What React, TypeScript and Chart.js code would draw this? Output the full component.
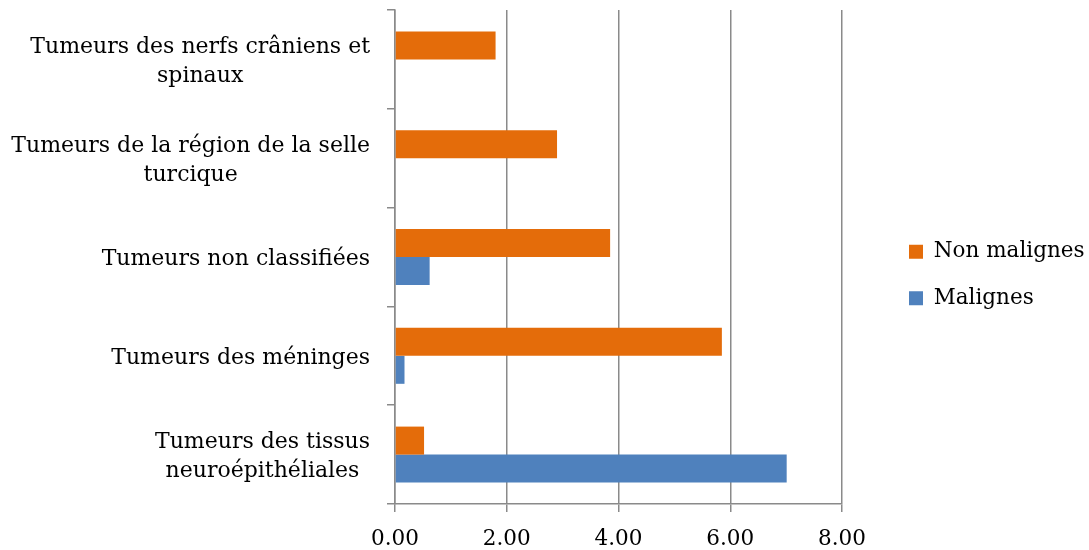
import React, { useEffect, useRef } from 'react';
import { Chart, registerables } from 'chart.js';

Chart.register(...registerables);

const categories: string[][] = [
  ['Tumeurs des nerfs crâniens et', 'spinaux'],
  ['Tumeurs de la région de la selle', 'turcique'],
  ['Tumeurs non classifiées'],
  ['Tumeurs des méninges'],
  ['Tumeurs des tissus', 'neuroépithéliales'],
];
const nonMalignes = [1.8, 2.9, 3.85, 5.85, 0.52];
const malignes = [0, 0, 0.62, 0.17, 7.01];
const xTicks = [0, 2, 4, 6, 8];
const seriesNames = ['Non malignes', 'Malignes'];

const ORANGE = '#E46C0A';
const BLUE = '#4F81BD';
const GRID = '#8a8a8a';
const FONT = '"DejaVu Serif", serif';

const yLabelPlugin = {
  id: 'yLabels',
  afterDraw(chart: any) {
    const ys = chart.scales.y;
    const ctx = chart.ctx;
    ctx.save();
    ctx.font = '22px ' + FONT;
    ctx.fillStyle = '#000';
    ctx.textBaseline = 'alphabetic';
    ctx.textAlign = 'center';
    const right = ys.right - 25;
    categories.forEach((lines, i) => {
      const cy = ys.getPixelForValue(i);
      const maxW = Math.max(...lines.map((l) => ctx.measureText(l).width));
      const cx = right - maxW / 2;
      lines.forEach((l, j) => {
        ctx.fillText(l, cx, cy + 8 + (j - (lines.length - 1) / 2) * 29);
      });
    });
    ctx.restore();
  },
};

export default function App() {
  const ref = useRef<HTMLCanvasElement>(null);
  useEffect(() => {
    if (!ref.current) return;
    Chart.defaults.font.family = FONT;
    const chart = new Chart(ref.current, {
      type: 'bar',
      data: {
        labels: categories.map((c) => c.join(' ')),
        datasets: [
          {
            label: seriesNames[0],
            data: nonMalignes,
            backgroundColor: ORANGE,
            borderWidth: 0,
            xAxisID: 'x',
            yAxisID: 'y',
            barPercentage: 1,
            categoryPercentage: 0.567,
          },
          {
            label: seriesNames[1],
            data: malignes,
            backgroundColor: BLUE,
            borderWidth: 0,
            xAxisID: 'x',
            yAxisID: 'y',
            barPercentage: 1,
            categoryPercentage: 0.567,
          },
        ],
      },
      options: {
        indexAxis: 'y',
        animation: false,
        responsive: false,
        devicePixelRatio: 1,
        layout: { padding: 0 },
        plugins: {
          legend: {
            position: 'right',
            maxWidth: 205,
            labels: {
              font: { family: FONT, size: 21.5 },
              color: '#000',
              boxWidth: 14,
              boxHeight: 14,
              padding: 25,
            },
          },
          tooltip: { enabled: false },
        },
        scales: {
          x: {
            type: 'linear',
            position: 'bottom',
            min: 0,
            max: 8,
            afterBuildTicks: (s: any) => {
              s.ticks = xTicks.map((v) => ({ value: v }));
            },
            ticks: {
              callback: (v: any) => Number(v).toFixed(2),
              font: { family: FONT, size: 21.5 },
              color: '#000',
              padding: 15,
              maxRotation: 0,
            },
            grid: {
              color: GRID,
              lineWidth: 1.5,
              drawTicks: true,
              tickLength: 8,
              tickColor: GRID,
            },
            border: { display: true, color: GRID, width: 1.5 },
            afterFit: (s: any) => {
              s.height = 46;
            },
          },
          y: {
            type: 'category',
            position: 'left',
            offset: true,
            grid: {
              offset: true,
              drawOnChartArea: false,
              drawTicks: true,
              tickLength: 8,
              color: GRID,
              lineWidth: 1.5,
            },
            border: { display: true, color: GRID, width: 1.5 },
            ticks: { display: false },
            afterFit: (s: any) => {
              s.width = 395;
            },
          },
          yRight: {
            type: 'category',
            axis: 'y',
            position: 'right',
            display: true,
            grid: { display: false },
            ticks: { display: false },
            border: { display: false },
            afterFit: (s: any) => {
              s.width = 42;
            },
          },
          xTop: {
            type: 'linear',
            axis: 'x',
            position: 'top',
            display: true,
            grid: { display: false },
            ticks: { display: false },
            border: { display: false },
            afterFit: (s: any) => {
              s.height = 10;
            },
          },
        },
      } as any,
      plugins: [yLabelPlugin],
    });
    return () => chart.destroy();
  }, []);
  return (
    <div style={{ position: 'absolute', left: 0, top: 0, width: 1089, height: 550, background: '#fff' }}>
      <canvas ref={ref} width={1089} height={550} style={{ display: 'block' }} />
    </div>
  );
}
